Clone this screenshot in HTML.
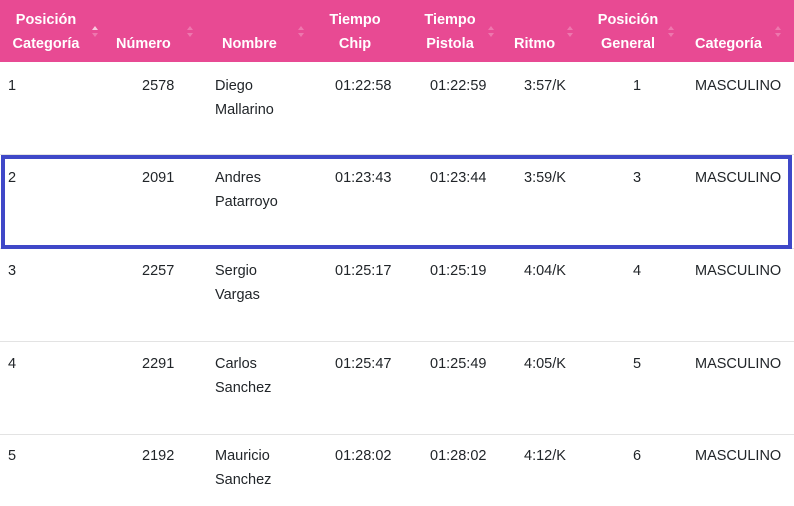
<!DOCTYPE html>
<html><head><meta charset="utf-8"><style>
body{margin:0;width:794px;height:506px;background:#fff;font-family:"Liberation Sans",sans-serif;position:relative;overflow:hidden;color:#212529}
.hd{position:absolute;left:0;top:0;width:794px;height:62px;background:#e84a93}
.h{position:absolute;color:#fff;font-weight:bold;font-size:14.5px;line-height:24px;text-align:center;white-space:nowrap}
.t{position:absolute;font-size:14.5px;line-height:24px;white-space:nowrap}
.ar{position:absolute;width:0;height:0;border-left:3px solid transparent;border-right:3px solid transparent}
.line{position:absolute;left:0;width:794px;height:1px;background:#e3e3e3}
.box{position:absolute;left:1px;top:155px;width:783px;height:86px;border:4px solid #3f48c8}
</style></head><body>
<div class="hd"></div>
<div class="h" style="left:6px;top:8px;width:80px">Posición<br>Categoría</div>
<div class="h" style="left:116px;top:32px">Número</div>
<div class="h" style="left:222px;top:32px">Nombre</div>
<div class="h" style="left:320px;top:8px;width:70px">Tiempo<br>Chip</div>
<div class="h" style="left:415px;top:8px;width:70px">Tiempo<br>Pistola</div>
<div class="h" style="left:514px;top:32px">Ritmo</div>
<div class="h" style="left:590px;top:8px;width:76px">Posición<br>General</div>
<div class="h" style="left:695px;top:32px">Categoría</div>
<div class="ar" style="left:92px;top:26px;border-bottom:4px solid rgba(255,255,255,.7)"></div>
<div class="ar" style="left:92px;top:33px;border-top:4px solid rgba(255,255,255,.25)"></div>
<div class="ar" style="left:187px;top:26px;border-bottom:4px solid rgba(255,255,255,.25)"></div>
<div class="ar" style="left:187px;top:33px;border-top:4px solid rgba(255,255,255,.25)"></div>
<div class="ar" style="left:298px;top:26px;border-bottom:4px solid rgba(255,255,255,.25)"></div>
<div class="ar" style="left:298px;top:33px;border-top:4px solid rgba(255,255,255,.25)"></div>
<div class="ar" style="left:488px;top:26px;border-bottom:4px solid rgba(255,255,255,.25)"></div>
<div class="ar" style="left:488px;top:33px;border-top:4px solid rgba(255,255,255,.25)"></div>
<div class="ar" style="left:567px;top:26px;border-bottom:4px solid rgba(255,255,255,.25)"></div>
<div class="ar" style="left:567px;top:33px;border-top:4px solid rgba(255,255,255,.25)"></div>
<div class="ar" style="left:668px;top:26px;border-bottom:4px solid rgba(255,255,255,.25)"></div>
<div class="ar" style="left:668px;top:33px;border-top:4px solid rgba(255,255,255,.25)"></div>
<div class="ar" style="left:775px;top:26px;border-bottom:4px solid rgba(255,255,255,.25)"></div>
<div class="ar" style="left:775px;top:33px;border-top:4px solid rgba(255,255,255,.25)"></div>

<div class="line" style="top:154px"></div>
<div class="line" style="top:248px"></div>
<div class="line" style="top:341px"></div>
<div class="line" style="top:434px"></div>
<div class="box"></div>

<div class="t" style="left:8px;top:74px">1</div><div class="t" style="left:142px;top:74px">2578</div><div class="t" style="left:215px;top:74px">Diego<br>Mallarino</div><div class="t" style="left:335px;top:74px">01:22:58</div><div class="t" style="left:430px;top:74px">01:22:59</div><div class="t" style="left:524px;top:74px">3:57/K</div><div class="t" style="left:633px;top:74px">1</div><div class="t" style="left:695px;top:74px">MASCULINO</div>

<div class="t" style="left:8px;top:166px">2</div><div class="t" style="left:142px;top:166px">2091</div><div class="t" style="left:215px;top:166px">Andres<br>Patarroyo</div><div class="t" style="left:335px;top:166px">01:23:43</div><div class="t" style="left:430px;top:166px">01:23:44</div><div class="t" style="left:524px;top:166px">3:59/K</div><div class="t" style="left:633px;top:166px">3</div><div class="t" style="left:695px;top:166px">MASCULINO</div>

<div class="t" style="left:8px;top:259px">3</div><div class="t" style="left:142px;top:259px">2257</div><div class="t" style="left:215px;top:259px">Sergio<br>Vargas</div><div class="t" style="left:335px;top:259px">01:25:17</div><div class="t" style="left:430px;top:259px">01:25:19</div><div class="t" style="left:524px;top:259px">4:04/K</div><div class="t" style="left:633px;top:259px">4</div><div class="t" style="left:695px;top:259px">MASCULINO</div>

<div class="t" style="left:8px;top:352px">4</div><div class="t" style="left:142px;top:352px">2291</div><div class="t" style="left:215px;top:352px">Carlos<br>Sanchez</div><div class="t" style="left:335px;top:352px">01:25:47</div><div class="t" style="left:430px;top:352px">01:25:49</div><div class="t" style="left:524px;top:352px">4:05/K</div><div class="t" style="left:633px;top:352px">5</div><div class="t" style="left:695px;top:352px">MASCULINO</div>

<div class="t" style="left:8px;top:444px">5</div><div class="t" style="left:142px;top:444px">2192</div><div class="t" style="left:215px;top:444px">Mauricio<br>Sanchez</div><div class="t" style="left:335px;top:444px">01:28:02</div><div class="t" style="left:430px;top:444px">01:28:02</div><div class="t" style="left:524px;top:444px">4:12/K</div><div class="t" style="left:633px;top:444px">6</div><div class="t" style="left:695px;top:444px">MASCULINO</div>
</body></html>
